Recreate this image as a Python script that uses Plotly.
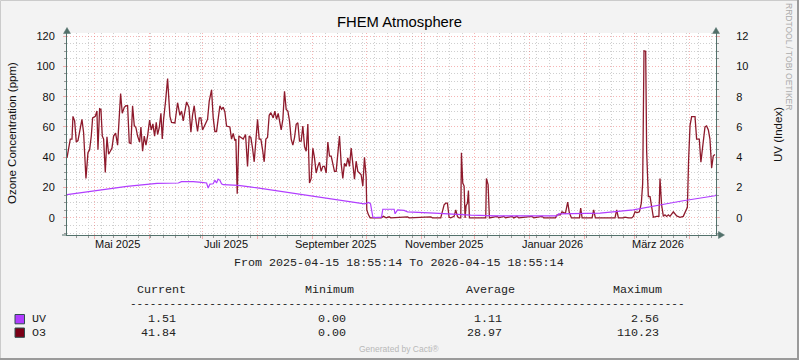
import plotly.graph_objects as go
import pandas as pd

# ---------------- data ----------------
START = "2025-04-15 18:55:14"
END = "2026-04-15 18:55:14"

# O3 (ppm) : days since START, value
o3_days = [0.0, 0.92, 1.85, 2.79, 3.35, 4.29, 5.23, 6.16, 7.10, 8.41, 9.35, 10.66, 11.79, 12.72, 13.66,
           14.41, 15.91, 16.84, 17.41, 18.34, 19.09, 19.84, 20.59, 21.53, 22.47, 23.40, 24.34, 25.28,
           26.21, 27.34, 28.46, 29.21, 30.15, 31.08, 32.21, 33.15, 34.08, 35.02, 35.96, 36.89, 37.83,
           38.77, 39.70, 40.83, 41.58, 42.51, 43.45, 44.39, 45.32, 46.45, 47.39, 48.32, 49.26, 50.20,
           50.95, 51.88, 52.82, 53.57, 54.32, 55.44, 56.57,
           57.88, 58.81, 60.69, 62.19, 63.50, 64.43, 65.37, 66.31, 67.25, 68.56, 69.68, 70.62, 71.55,
           72.30, 73.43, 74.37, 75.30, 76.24, 77.55, 79.05, 79.99, 81.30, 82.23, 83.17, 84.11, 85.05,
           85.98, 86.92, 87.86, 88.79, 89.73, 91.60, 92.54, 93.48, 94.41, 94.98, 95.73, 96.66, 97.79,
           99.10, 100.41, 101.53, 102.47, 103.41, 104.34, 105.28, 106.22, 107.16, 108.09, 109.03,
           109.97, 110.90, 111.84, 112.78, 113.71, 114.65, 115.96, 116.90, 117.84, 118.77, 120.46,
           121.40, 122.33, 123.27, 124.21, 125.14, 126.08, 127.02, 127.96, 128.89, 129.83, 130.77,
           131.70, 132.64, 133.58, 134.51, 135.45, 136.39, 137.32, 138.26, 139.20, 140.13, 141.07,
           142.01, 142.94, 143.88, 144.82, 145.76, 146.69, 147.63, 148.57, 149.50, 150.44, 151.38,
           152.31, 153.25, 154.19, 155.12, 156.06, 157.00, 157.93, 158.87, 159.81, 160.75, 161.68,
           162.62, 163.56, 164.49, 165.43, 166.37, 167.30, 168.24, 168.61, 169.55, 170.49, 173.86,
           176.67, 177.98, 179.48,
           181.17, 182.1, 191.5, 192.4, 204.6, 205.5, 210.2, 211.15, 212.09, 213.02, 213.96, 214.9,
           215.83, 217.7, 218.64, 219.58, 220.52, 221.46, 221.83, 222.58, 223.33, 223.89, 224.45,
           225.2, 225.77, 226.33, 235.5, 235.88, 236.82, 237.57,
           241.9, 242.8, 245.6, 246.6, 250.3, 251.25, 253.1, 254.06, 261.55, 262.5, 267.2, 268.1,
           274.67, 275.6, 277.5, 278.4, 279.4, 280.3, 281.6, 282.5, 283.7, 288.2, 288.9, 289.7,
           295.3, 296.2, 297.15,
           308.2, 309.15, 310.1, 312.9, 313.8, 315.7, 317.6, 318.5, 319.45, 320.76, 321.9, 323.0,
           323.76, 324.5, 325.45, 326.0, 326.95, 327.9, 328.8, 329.76, 331.6, 332.9, 333.5, 334.4,
           335.4, 336.3, 337.25, 338.2, 339.1, 341.0, 342.9, 344.75, 346.6, 347.6, 348.9, 349.6,
           350.4, 351.3, 353.2, 354.1, 355.6, 356.5, 357.9, 358.8, 359.7, 360.7, 361.6, 362.55,
           363.5, 364.4]
o3_vals = [39.6, 45, 52, 52, 67, 64, 50, 51, 56, 65, 56, 26, 43, 45, 54,
           66, 67, 70.5, 45, 72, 71.6, 54, 52, 30, 53.5, 42, 44, 46,
           54, 56, 48, 67, 82, 69, 73, 74, 74, 49.5, 49, 74, 61,
           59.5, 54, 50, 60, 44, 54, 48, 54, 64.5, 58, 62, 54, 63,
           55, 59.5, 69, 52, 65, 77, 92,
           67, 63, 62.6, 76, 67.7, 70.5, 64, 71.6, 76.5, 73, 56.6, 68, 74,
           66, 57, 66, 66, 58, 61.7, 65, 77, 84.5, 66, 57, 57, 65.4,
           74, 71.6, 73, 70, 60.6, 60, 52, 55.7, 51, 52, 16, 54, 53,
           52, 55, 34, 54, 53, 46, 37, 51, 65, 52, 52,
           45, 37, 52, 53, 67.7, 69.4, 66, 70.5, 65, 69, 58,
           65, 83.6, 71.6, 70.5, 64, 52, 48, 53, 61.7, 62.8, 50.6,
           50.6, 60.6, 47, 44, 62, 23, 26, 46, 39.6, 29.6, 34,
           36.7, 30.7, 34, 34, 29.6, 50, 40.7, 40.7, 36, 30.7, 30.7,
           40.7, 54, 36, 26, 36, 34, 39.6, 34, 46, 34, 25.6,
           37.4, 30.7, 29.6, 28.5, 21, 40, 27, 5.3, 2, 0, 0,
           0, 1, 0,
           0.7, 0, 0.7, 0, 0.7, 0, 0, 5, 8.6, 9.7, 9.7, 0.4,
           0, 1, 5.3, 1, 0, 0, 43, 23, 21, 0, 8,
           9.7, 18, 0, 0, 26, 22, 0,
           1, 0, 1, 0, 1, 0, 1, 0, 1, 0, 1, 0,
           0, 2, 2, 4, 3.5, 3, 10.4, 3.5, 0, 0, 6.4, 0,
           0, 5.3, 0,
           0, 5.3, 0, 0, 0.5, 0, 0, 1, 4, 3.5, 4, 9.7,
           22.5, 110.23, 110, 44, 14, 14, 7.5, 0.4, 1, 1, 26, 8.6,
           1, 2, 1, 2, 1, 4, 1.3, 0.4, 1, 4, 7, 38.5,
           61, 66.8, 66.8, 52, 52, 36.7, 54, 60, 60.6, 58, 52, 33,
           41, 41.84]

# UV (index) : days since START, value
uv_days = [0, 15, 33.7, 50.6, 62.6, 64.4, 71.0, 75.7, 78.5, 79.4, 80.4, 82.2, 83.2, 84.1, 85.0,
           86.0, 86.9, 87.9, 96.3, 103.8, 111.3, 119.9, 136.4, 155.1, 167.3, 168.6, 169.7, 170.7,
           172.0, 172.9, 176.9, 177.6, 184.0, 184.5, 185.9, 189.6, 191.5, 206.5, 215.8, 227.1,
           241.3, 275.6, 276.5, 288.7, 299.8, 318.5, 327.9, 337.25, 346.6, 356.0, 364.4, 365.0]
uv_vals = [1.53, 1.79, 2.08, 2.28, 2.30, 2.39, 2.39, 2.34, 2.30, 1.97, 2.23, 2.25, 2.48, 2.30, 2.56,
           2.48, 2.25, 2.19, 2.14, 2.03, 1.90, 1.75, 1.48, 1.15, 0.93, 0.97, 1.02, 0.93,
           0.05, 0.02, 0.05, 0.57, 0.57, 0.27, 0.53, 0.49, 0.40, 0.31, 0.24, 0.18,
           0.13, 0.13, 0.27, 0.31, 0.31, 0.53, 0.75, 0.93, 1.13, 1.28, 1.46, 1.51]

month_label_dates = ["2025-05-14", "2025-07-14", "2025-09-14", "2025-11-14", "2026-01-14", "2026-03-14"]
month_labels = ["Mai 2025", "Juli 2025", "September 2025", "November 2025", "Januar 2026", "März 2026"]

series_names = ["UV", "O3"]
stat_headers = ["Current", "Minimum", "Average", "Maximum"]
uv_stats = ["1.51", "0.00", "1.11", "2.56"]
o3_stats = ["41.84", "0.00", "28.97", "110.23"]

TITLE = "FHEM Atmosphere"
LEFT_TITLE = "Ozone Concentration (ppm)"
RIGHT_TITLE = "UV (Index)"

# ---------------- styling ----------------
UV_COLOR = "#B13DFF"
O3_COLOR = "#8E1A2C"
O3_SWATCH = "#7A0016"
AXIS_COLOR = "#52716B"
MAJOR_GRID = "rgba(235,90,90,0.45)"
MINOR_GRID = "#CFCFCF"
BG = "#F3F3F3"

W, H = 799, 360
L, R, T, B = 67, 83, 33, 125
PW, PH = W - L - R, H - T - B


def px(x):
    return (x - L) / PW


def py(y):
    return (H - B - y) / PH


t0 = pd.Timestamp(START)
o3_time = t0 + pd.to_timedelta(o3_days, unit="D")
uv_time = t0 + pd.to_timedelta(uv_days, unit="D")

fig = go.Figure()
fig.add_trace(go.Scatter(x=uv_time, y=uv_vals, mode="lines", name="UV",
                         line=dict(color=UV_COLOR, width=1.2), yaxis="y2"))
fig.add_trace(go.Scatter(x=o3_time, y=o3_vals, mode="lines", name="O3",
                         line=dict(color=O3_COLOR, width=1.3)))

tick_font = dict(family="Liberation Sans, Arial, sans-serif", size=11, color="#111")
mono = "Liberation Mono, Courier New, monospace"

fig.update_layout(
    width=W, height=H,
    margin=dict(l=L, r=R, t=T, b=B, pad=0),
    paper_bgcolor=BG, plot_bgcolor="white",
    showlegend=False,
    xaxis=dict(
        type="date", range=[START, END],
        tick0="2025-05-01", dtick="M1",
        showgrid=True, gridcolor=MAJOR_GRID, griddash="1px,2px", gridwidth=1,
        showticklabels=False, ticks="outside", ticklen=3, tickcolor=MAJOR_GRID,
        minor=dict(tick0="2025-04-21", dtick=7 * 86400000, showgrid=True,
                   gridcolor=MINOR_GRID, griddash="1px,2px", ticks="outside",
                   ticklen=2, tickcolor="#999"),
        showline=True, linecolor=AXIS_COLOR, linewidth=1, zeroline=False,
    ),
    yaxis=dict(
        range=[-11.3, 122], tick0=0, dtick=20,
        showgrid=True, gridcolor=MAJOR_GRID, griddash="1px,2px",
        minor=dict(dtick=5, showgrid=True, gridcolor=MINOR_GRID, griddash="1px,2px",
                   ticks="outside", ticklen=2, tickcolor="#999"),
        ticks="outside", ticklen=3, tickcolor=MAJOR_GRID,
        tickfont=tick_font, ticklabelstandoff=6,
        showline=True, linecolor=AXIS_COLOR, linewidth=1, zeroline=False,
    ),
    yaxis2=dict(
        overlaying="y", side="right", range=[-1.13, 12.2], tick0=0, dtick=2,
        showgrid=False, zeroline=False,
        ticks="outside", ticklen=3, tickcolor=MAJOR_GRID,
        minor=dict(dtick=0.5, ticks="outside", ticklen=2, tickcolor="#999"),
        tickfont=tick_font, ticklabelstandoff=14,
        showline=True, linecolor=AXIS_COLOR, linewidth=1,
    ),
)

ann = []
sans = "Liberation Sans, Arial, sans-serif"
ann.append(dict(text=TITLE, x=px(399), y=py(22), xref="paper", yref="paper",
                xanchor="center", yanchor="middle", showarrow=False,
                font=dict(family=sans, size=14.8, color="#000")))
ann.append(dict(text=LEFT_TITLE, x=px(12), y=py(133), xref="paper", yref="paper",
                textangle=-90, xanchor="center", yanchor="middle", showarrow=False,
                font=dict(family=sans, size=11.5, color="#111")))
ann.append(dict(text=RIGHT_TITLE, x=px(778), y=py(135), xref="paper", yref="paper",
                textangle=-90, xanchor="center", yanchor="middle", showarrow=False,
                font=dict(family=sans, size=11.5, color="#111")))
ann.append(dict(text="RRDTOOL / TOBI OETIKER", x=px(789), y=py(56), xref="paper", yref="paper",
                textangle=90, xanchor="center", yanchor="middle", showarrow=False,
                font=dict(family=sans, size=8.5, color="#ABABAB")))
for d, lab in zip(month_label_dates, month_labels):
    ann.append(dict(text=lab, x=d, y=py(244), xref="x", yref="paper",
                    xanchor="center", yanchor="middle", showarrow=False, font=tick_font))
ann.append(dict(text=f"From {START} To {END}", x=px(399), y=py(263), xref="paper", yref="paper",
                xanchor="center", yanchor="middle", showarrow=False,
                font=dict(family=mono, size=11.7, color="#222")))
head_left = [135, 303, 464, 611]
num_right = [178, 348, 504, 661]
for h, xl in zip(stat_headers, head_left):
    ann.append(dict(text=h, x=px(xl), y=py(290), xref="paper", yref="paper",
                    xanchor="left", yanchor="middle", showarrow=False,
                    font=dict(family=mono, size=11.7, color="#222")))
ann.append(dict(text="-" * 84, x=px(128), y=py(303.5), xref="paper", yref="paper",
                xanchor="left", yanchor="middle", showarrow=False,
                font=dict(family=mono, size=11, color="#222")))
rows = [(series_names[0], uv_stats, 319, UV_COLOR), (series_names[1], o3_stats, 332.5, O3_SWATCH)]
shapes = []
for name, stats, yy, col in rows:
    ann.append(dict(text=name, x=px(30), y=py(yy), xref="paper", yref="paper",
                    xanchor="left", yanchor="middle", showarrow=False,
                    font=dict(family=mono, size=11.7, color="#222")))
    for s, xr in zip(stats, num_right):
        ann.append(dict(text=s, x=px(xr), y=py(yy), xref="paper", yref="paper",
                        xanchor="right", yanchor="middle", showarrow=False,
                        font=dict(family=mono, size=11.7, color="#222")))
    shapes.append(dict(type="rect", xref="paper", yref="paper",
                       x0=px(15), x1=px(24.5), y0=py(yy - 4.5), y1=py(yy + 4.8),
                       fillcolor=col, line=dict(color="#2F4F4F", width=1)))
ann.append(dict(text="Generated by Cacti®", x=px(399), y=py(349), xref="paper", yref="paper",
                xanchor="center", yanchor="middle", showarrow=False,
                font=dict(family=sans, size=8.5, color="#B8B8B8")))


def tri(points):
    p = " L ".join(f"{px(a)},{py(b)}" for a, b in points)
    return "M " + p + " Z"


for pts in ([(67, 27.5), (63.5, 33.5), (70.5, 33.5)],
            [(716, 27.5), (712.5, 33.5), (719.5, 33.5)],
            [(724.5, 235), (718.5, 231.5), (718.5, 238.5)]):
    shapes.append(dict(type="path", xref="paper", yref="paper", path=tri(pts),
                       fillcolor=AXIS_COLOR, line=dict(color=AXIS_COLOR, width=0.5)))
shapes.append(dict(type="line", xref="paper", yref="paper", x0=px(67), x1=px(67),
                   y0=py(33), y1=py(29), line=dict(color=AXIS_COLOR, width=1)))
shapes.append(dict(type="line", xref="paper", yref="paper", x0=px(716), x1=px(716),
                   y0=py(33), y1=py(29), line=dict(color=AXIS_COLOR, width=1)))
shapes.append(dict(type="line", xref="paper", yref="paper", x0=px(716), x1=px(722),
                   y0=py(235), y1=py(235), line=dict(color=AXIS_COLOR, width=1)))
shapes.append(dict(type="line", xref="paper", yref="paper", x0=px(62), x1=px(67),
                   y0=py(235), y1=py(235), line=dict(color=AXIS_COLOR, width=1)))
shapes.append(dict(type="line", xref="paper", yref="paper", x0=px(0.5), x1=px(798.5),
                   y0=py(0.5), y1=py(0.5), line=dict(color="#CBCBCB", width=1)))
shapes.append(dict(type="line", xref="paper", yref="paper", x0=px(0.5), x1=px(0.5),
                   y0=py(0.5), y1=py(359.5), line=dict(color="#CBCBCB", width=1)))
shapes.append(dict(type="line", xref="paper", yref="paper", x0=px(798), x1=px(798),
                   y0=py(0), y1=py(360), line=dict(color="#9A9A9A", width=2)))
shapes.append(dict(type="line", xref="paper", yref="paper", x0=px(0), x1=px(799),
                   y0=py(359), y1=py(359), line=dict(color="#9A9A9A", width=2)))

fig.update_layout(annotations=ann, shapes=shapes)
fig.write_html("out.html", config={"displayModeBar": False},
               post_script="document.body.style.margin='0';document.body.style.padding='0';")
